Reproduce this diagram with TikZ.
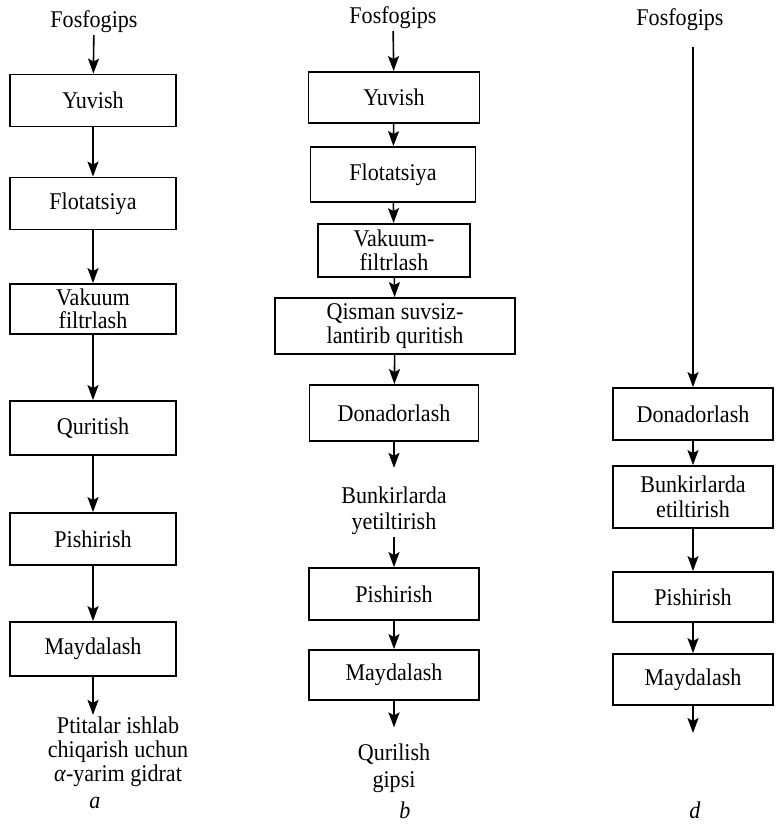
\documentclass[tikz,border=0pt]{standalone}
\usepackage{fontspec}
\setmainfont[FakeStretch=0.92]{Liberation Serif}
\usetikzlibrary{arrows.meta}
\begin{document}
\begin{tikzpicture}[
       x=1pt, y=-1pt,
       font=\fontsize{24}{23.5}\selectfont,
       blok/.style={
         draw,
         line width=1.8pt,
         minimum width=166pt,
         minimum height=52pt,
         inner sep=0pt,
         align=center
       },
       matn/.style={
         inner sep=2pt,
         align=center,
         font=\fontsize{24}{24}\selectfont
       },
       strelka/.style={
         line width=1.6pt,
         -{Stealth[length=15pt,width=11pt,inset=3pt]}
       }
     ]

       \useasboundingbox (0,0) rectangle (777,826);

       % a
       \node (a1) at (94,22) [matn]{Fosfogips};
       \node (a2) at (93,100.5) [blok]{Yuvish};
       \node (a3) at (93,203.5) [blok]{Flotatsiya};
       \node (a4) at (93,309) [blok,minimum height=50pt]{Vakuum\\filtrlash};
       \node (a5) at (93,428) [blok,minimum height=54pt]{Quritish};
       \node (a6) at (93,539) [blok]{Pishirish};
       \node (a7) at (93,649) [blok,minimum height=54pt]{Maydalash};
       \node (a8) at (118,752) [matn]{Ptitalar ishlab\\chiqarish uchun\\\textit{α}-yarim gidrat};
       \node (la) at (95,803) {\textit{a}};

       \draw[strelka] (a1) -- (a2);
       \draw[strelka] (a2) -- (a3);
       \draw[strelka] (a3) -- (a4);
       \draw[strelka] (a4) -- (a5);
       \draw[strelka] (a5) -- (a6);
       \draw[strelka] (a6) -- (a7);
       \draw[strelka] (a7.south) -- (a7.south |- a8.north);

       % b
       \node (b1) at (393,18) [matn]{Fosfogips};
       \node (b2) at (394,97.5) [blok,minimum width=171pt,minimum height=51pt]{Yuvish};
       \node (b3) at (393,174.5) [blok,minimum width=165pt,minimum height=55pt]{Flotatsiya};
       \node (b4) at (394,250.5) [blok,minimum width=152pt,minimum height=53pt]{Vakuum-\\filtrlash};
       \node (b5) at (395,326) [blok,minimum width=240pt,minimum height=56pt]{Qisman suvsiz-\\lantirib quritish};
       \node (b6) at (394,413) [blok,minimum width=169pt,minimum height=56pt]{Donadorlash};
       \node (b7) at (394,511) [matn,font=\fontsize{24}{26}\selectfont]{Bunkirlarda\\yetiltirish};
       \node (b8) at (394,594) [blok,minimum width=170pt]{Pishirish};
       \node (b9) at (394,675) [blok,minimum width=170pt,minimum height=50pt]{Maydalash};
       \node (b10) at (394,768) [matn,font=\fontsize{24}{27}\selectfont]{Qurilish\\gipsi};
       \node (lb) at (405,810) {\textit{b}};

       \draw[strelka] (b1) -- (b2);
       \draw[strelka] (b2) -- (b3);
       \draw[strelka] (b3) -- (b4);
       \draw[strelka] (b4) -- (b5);
       \draw[strelka] (b5) -- (b6);
       \draw[strelka,shorten >=17pt] (b6) -- (b7);
       \draw[strelka] (b7) -- (b8);
       \draw[strelka] (b8) -- (b9);
       \draw[strelka,shorten >=14pt] (b9) -- (b10);

       % d
       \node (d1) at (680,20) [matn]{Fosfogips};
       \node (d2) at (693,414) [blok,minimum width=160pt]{Donadorlash};
       \node (d3) at (693,497) [blok,minimum width=160pt,minimum height=62pt,font=\fontsize{24}{25}\selectfont]{Bunkirlarda\\etiltirish};
       \node (d4) at (693,597) [blok,minimum width=160pt,minimum height=50pt]{Pishirish};
       \node (d5) at (693,679.5) [blok,minimum width=160pt,minimum height=51pt]{Maydalash};
       \coordinate (d6) at (693,733);
       \node (ld) at (695,810) {\textit{d}};

       \draw[strelka,shorten <=14pt] (d2.north |- d1.south) -- (d2.north);
       \draw[strelka] (d2) -- (d3);
       \draw[strelka] (d3) -- (d4);
       \draw[strelka] (d4) -- (d5);
       \draw[strelka] (d5) -- (d6);

\end{tikzpicture}
\end{document}
